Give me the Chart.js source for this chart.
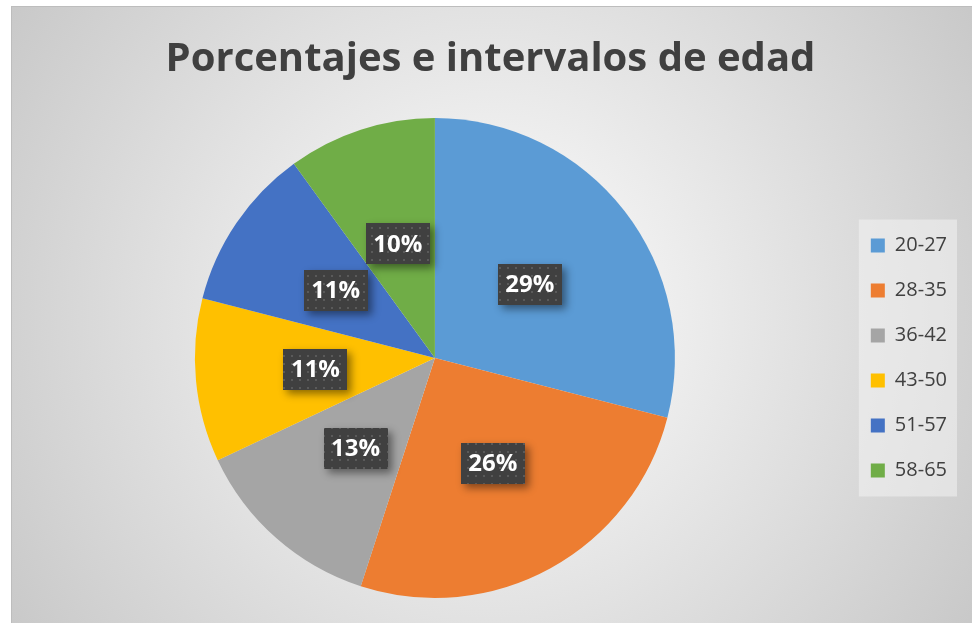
<!DOCTYPE html>
<html>
<head>
<meta charset="utf-8">
<script src="https://cdn.jsdelivr.net/npm/chart.js@4.4.0/dist/chart.umd.min.js"></script>
<style>
  html, body { margin: 0; padding: 0; background: #ffffff; }
  #wrap { width: 972px; height: 623px; position: relative; }
</style>
</head>
<body>
<div id="wrap"><canvas id="pieChart"></canvas></div>
<script>
// intervalos de edad y porcentajes
const intervalos = ['20-27', '28-35', '36-42', '43-50', '51-57', '58-65'];
const porcentajes = [29, 26, 13, 11, 11, 10];
const colores = ['#5B9BD5', '#ED7D31', '#A5A5A5', '#FFC000', '#4472C4', '#70AD47'];
const titulo = 'Porcentajes e intervalos de edad';

// fondo con degradado radial y recuadro de la leyenda
const fondoPlugin = {
    id: 'fondo',
    beforeDraw(chart) {
        const ctx = chart.ctx;
        ctx.save();
        ctx.fillStyle = '#ffffff';
        ctx.fillRect(0, 0, chart.width, chart.height);
        const grad = ctx.createRadialGradient(490, 315, 0, 490, 315, 620);
        grad.addColorStop(0, '#ffffff');
        grad.addColorStop(1, '#c4c4c4');
        ctx.fillStyle = grad;
        ctx.fillRect(11, 6, chart.width - 11, chart.height - 6);
        ctx.strokeStyle = '#bdbdbd';
        ctx.lineWidth = 1;
        ctx.strokeRect(11.5, 6.5, chart.width, chart.height);

        const cajas = chart.legend.legendHitBoxes;
        if (cajas && cajas.length) {
            const primera = cajas[0];
            const ultima = cajas[cajas.length - 1];
            const x0 = primera.left - 12;
            const y0 = primera.top - 16;
            const y1 = ultima.top + ultima.height + 16;
            ctx.fillStyle = 'rgba(245,245,245,0.5)';
            ctx.fillRect(x0, y0, 957 - x0, y1 - y0);
        }
        ctx.restore();
    }
};

// etiquetas con caja oscura punteada
const etiquetasPlugin = {
    id: 'etiquetas',
    afterDatasetsDraw(chart) {
        const ctx = chart.ctx;
        const meta = chart.getDatasetMeta(0);
        const pat = document.createElement('canvas');
        pat.width = 8; pat.height = 8;
        const pctx = pat.getContext('2d');
        pctx.fillStyle = '#404040';
        pctx.fillRect(0, 0, 8, 8);
        pctx.fillStyle = '#5a5a5a';
        pctx.fillRect(3, 3, 2, 2);
        const patron = ctx.createPattern(pat, 'repeat');

        meta.data.forEach((arc, i) => {
            const p = arc.getCenterPoint();
            const w = 64, h = 41;
            const x = Math.round(p.x - w / 2);
            const y = Math.round(p.y - h / 2);
            ctx.save();
            ctx.shadowColor = 'rgba(0,0,0,0.45)';
            ctx.shadowBlur = 8;
            ctx.shadowOffsetX = 4;
            ctx.shadowOffsetY = 4;
            ctx.fillStyle = '#404040';
            ctx.fillRect(x, y, w, h);
            ctx.restore();
            ctx.save();
            ctx.fillStyle = patron;
            ctx.fillRect(x, y, w, h);
            ctx.fillStyle = '#ffffff';
            ctx.font = 'bold 24px "Open Sans"';
            ctx.textAlign = 'center';
            ctx.textBaseline = 'middle';
            ctx.fillText(porcentajes[i] + '%', p.x, p.y + 1);
            ctx.restore();
        });
    }
};

const ctx = document.getElementById('pieChart').getContext('2d');
new Chart(ctx, {
    type: 'pie',
    data: {
        labels: intervalos,
        datasets: [{
            data: porcentajes,
            backgroundColor: colores,
            borderWidth: 0
        }]
    },
    options: {
        responsive: true,
        maintainAspectRatio: false,
        animation: false,
        layout: {
            padding: { top: 12, bottom: 25, left: 24, right: 15 }
        },
        plugins: {
            title: {
                display: true,
                text: titulo,
                color: '#404040',
                font: { family: 'Open Sans', size: 40, weight: 'bold' },
                padding: { top: 23.5, bottom: 34.5 }
            },
            legend: {
                position: 'right',
                fullSize: false,
                labels: {
                    color: '#404040',
                    font: { family: 'Open Sans', size: 20 },
                    boxWidth: 14,
                    boxHeight: 14,
                    padding: 25
                }
            },
            tooltip: { enabled: false }
        }
    },
    plugins: [fondoPlugin, etiquetasPlugin]
});
</script>
</body>
</html>
